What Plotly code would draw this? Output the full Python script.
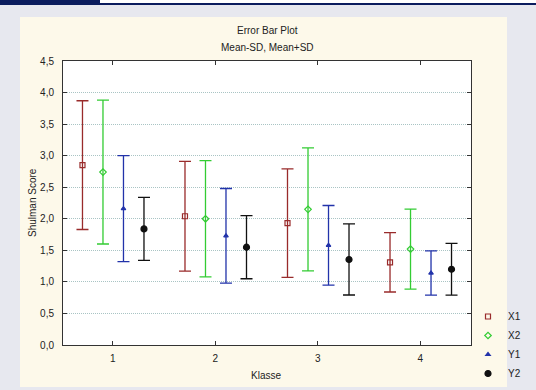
import plotly.graph_objects as go

# ---- data ----
klasse = [1, 2, 3, 4]
series_names = ["X1", "X2", "Y1", "Y2"]
x1_mean = [2.85, 2.04, 1.93, 1.31]
x1_sd = [1.02, 0.87, 0.86, 0.47]
x2_mean = [2.74, 2.00, 2.15, 1.52]
x2_sd = [1.14, 0.92, 0.975, 0.634]
y1_mean = [2.16, 1.73, 1.58, 1.14]
y1_sd = [0.84, 0.75, 0.63, 0.35]
y2_mean = [1.84, 1.55, 1.355, 1.20]
y2_sd = [0.50, 0.50, 0.563, 0.41]
y_ticks = [0.0, 0.5, 1.0, 1.5, 2.0, 2.5, 3.0, 3.5, 4.0, 4.5]

means = [x1_mean, x2_mean, y1_mean, y2_mean]
sds = [x1_sd, x2_sd, y1_sd, y2_sd]

# ---- styles ----
offsets = [-0.295, -0.095, 0.105, 0.305]
colors = ["#992b2b", "#33cc33", "#2233aa", "#111111"]
symbols = ["square-open", "diamond-open", "triangle-up", "circle"]
msizes = [5, 5, 4, 6]

W, H = 536, 390
L, R, T, B = 63, 471, 61, 345  # plot area pixel box


def px(x):
    return (x - L) / (R - L)


def py(y):
    return (B - y) / (B - T)


fig = go.Figure()
for name, m, s, off, c, sym, ms in zip(series_names, means, sds, offsets, colors, symbols, msizes):
    fig.add_trace(go.Scatter(
        x=[k + off for k in klasse], y=m, name=name, mode="markers",
        marker=dict(symbol=sym, size=ms, color=c, line=dict(color=c, width=1.2)),
        error_y=dict(type="data", array=s, visible=True, color=c, thickness=1.3, width=6),
    ))

font = "Liberation Sans, Arial, sans-serif"
gray = "#e7e8ef"
navy = "#0b1c5e"


def rect(x0, y0, x1, y1, color):
    return dict(type="rect", xref="paper", yref="paper", x0=px(x0), x1=px(x1), y0=py(y1), y1=py(y0),
                fillcolor=color, line_width=0, layer="below")


shapes = [
    rect(0, 0, 20, H, gray),
    rect(507, 0, W, H, gray),
    rect(0, 387, W, H, gray),
    rect(0, 0, W, 17, gray),
    rect(100, 0, W, 3, "#ffffff"),
    rect(100, 3, W, 5, navy),
    rect(0, 0, 100, 5, navy),
]

annotations = [
    dict(text="Error Bar Plot", xref="paper", yref="paper", x=px(267), y=py(30), showarrow=False,
         font=dict(size=10, color="#222", family=font), xanchor="center", yanchor="middle"),
    dict(text="Mean-SD, Mean+SD", xref="paper", yref="paper", x=px(267), y=py(47), showarrow=False,
         font=dict(size=10, color="#222", family=font), xanchor="center", yanchor="middle"),
    dict(text="Shulman Score", xref="paper", yref="paper", x=px(32), y=py(203), showarrow=False,
         textangle=-90, font=dict(size=10, color="#222", family=font), xanchor="center", yanchor="middle"),
    dict(text="Klasse", xref="paper", yref="paper", x=px(266), y=py(375), showarrow=False,
         font=dict(size=10, color="#222", family=font), xanchor="center", yanchor="middle"),
]

axis_common = dict(
    showline=True, linecolor="#333", linewidth=1, mirror="ticks", ticks="inside", ticklen=4,
    tickcolor="#333", tickfont=dict(size=10, color="#222", family=font), zeroline=False,
)

fig.update_layout(
    width=W, height=H,
    margin=dict(l=L, r=W - R, t=T, b=H - B, pad=0, autoexpand=False),
    paper_bgcolor="#fdf9ea", plot_bgcolor="#ffffff",
    separators=",.",
    showlegend=True,
    legend=dict(x=px(468), y=py(302), xanchor="left", yanchor="top", bgcolor="rgba(0,0,0,0)",
                font=dict(size=10, color="#222", family=font), itemwidth=30, tracegroupgap=0),
    shapes=shapes, annotations=annotations,
    xaxis=dict(range=[0.515, 4.495], tickvals=klasse, ticktext=[str(k) for k in klasse],
               showgrid=False, ticklabelstandoff=4, **axis_common),
    yaxis=dict(range=[0, 4.5], tickvals=y_ticks, tickformat=".1f", showgrid=True,
               gridcolor="#a9c4c4", griddash="1px,1px", gridwidth=1, ticklabelstandoff=6, **axis_common),
)

fig.write_html("out.html", config={"displayModeBar": False},
               post_script="document.body.style.margin='0';document.body.style.overflow='hidden';")
